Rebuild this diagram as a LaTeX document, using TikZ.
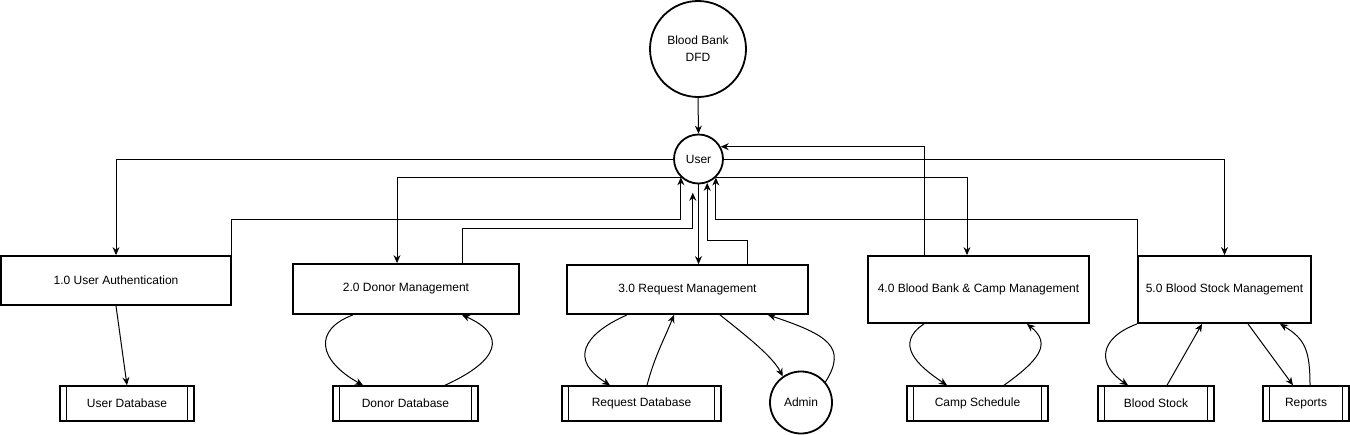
\documentclass[tikz,border=0pt]{standalone}
\usepackage{fontspec}
\setmainfont{Liberation Sans}
\usetikzlibrary{calc,positioning,arrows.meta}

\begin{document}
\begin{tikzpicture}[x=1pt,y=-1pt,>={Stealth[length=8pt,width=7pt]},line width=1pt,
                    font=\fontsize{12}{17}\selectfont,
                    proc node/.style={rectangle,draw,line width=1.8pt,minimum height=49pt,inner sep=0pt},
                    store node/.style={rectangle,draw,line width=1.5pt,minimum height=35pt,inner sep=0pt,
                       path picture={\draw[line width=1.5pt] ([xshift=6.5pt]path picture bounding box.north west) -- ([xshift=6.5pt]path picture bounding box.south west);
                                     \draw[line width=1.5pt] ([xshift=-6.5pt]path picture bounding box.north east) -- ([xshift=-6.5pt]path picture bounding box.south east);}},
                    ext node/.style={circle,draw,line width=1.8pt,inner sep=0pt}]
\useasboundingbox (0,0) rectangle (1350,434);

\node[ext node,minimum size=96pt,align=center] (dfd) at (698,49) {Blood Bank\\DFD};
\node[ext node,minimum size=49pt] (user) at (698.5,159) {User};

\node[proc node,minimum width=230pt] (auth) at (116,280.5) {1.0 User Authentication};
\node[proc node,minimum width=226pt,minimum height=50pt] (don) at (406,289) {2.0 Donor Management};
\node[proc node,minimum width=241pt] (req) at (687.5,289.5) {3.0 Request Management};
\node[proc node,minimum width=221pt,minimum height=67pt] (cmp) at (978.5,289.5) {4.0 Blood Bank \& Camp Management};
\node[proc node,minimum width=173pt,minimum height=67pt] (stk) at (1224.5,289.5) {5.0 Blood Stock Management};

\foreach \n/\x/\w/\t in {udb/127/134/User Database,ddb/405.5/145/Donor Database,rdb/641.5/159/Request Database,
                         csc/977.5/141/Camp Schedule,bst/1156/116/Blood Stock,rep/1306/86/Reports}
   \node[store node,minimum width=\w pt] (\n) at (\x,403.5) {\t};

\node[ext node,minimum size=62pt] (adm) at (801,402.5) {Admin};

\draw[->] (dfd.south) -- (user.north);

\draw[->] (user.west) -| (auth.north);
\draw[->] (user.-134) -| ($(don.north)+(-9,0)$);
\draw[->] (user.south) -- (user.south |- req.north);
\draw[->] (user.-46) -| ($(cmp.north)+(-11.5,0)$);
\draw[->] (user.east) -| (stk.north);

\draw[->] (auth.north east) -- ++(0,-36) -| (user.-134);
\draw[->,shorten >=9pt] ($(don.north)+(56,0)$) -- ++(0,-35) -| (user.-103);
\draw[->] ($(req.north)+(59.5,0)$) -- ++(0,-24) -| (user.-70);
\draw[->] ($(cmp.north)+(-54.5,0)$) |- (user.29);
\draw[->] (stk.north west) -- ++(0,-36) -| (user.-47);

\draw[->] (auth.south) -- (udb.north);
\draw[->] ($(don.south)+(-53,0)$) .. controls +(-40,15) and +(-45,-25) .. ($(ddb.north)+(-42.5,0)$);
\draw[->] ($(ddb.north)+(39.5,0)$) .. controls +(55,-25) and +(45,20) .. ($(don.south)+(56,0)$);
\draw[->] ($(req.south)+(-60.5,0)$) .. controls +(-45,20) and +(-40,-25) .. ($(rdb.north)+(-31.5,0)$);
\draw[->] ($(rdb.north)+(5.5,0)$) .. controls +(8,-30) and +(-10,25) .. ($(req.south)+(-13.5,0)$);
\draw[->] ($(req.south)+(32.5,0)$) .. controls +(25,20) and +(-10,-20) .. (adm.125);
\draw[->] (adm.40) .. controls +(22,-35) and +(60,20) .. ($(req.south)+(80.5,0)$);
\draw[->] ($(cmp.south)+(-54.5,0)$) .. controls +(-30,20) and +(-30,-20) .. ($(csc.north)+(-30.5,0)$);
\draw[->] ($(csc.north)+(26.5,0)$) .. controls +(35,-25) and +(25,20) .. ($(cmp.south)+(48.5,0)$);
\draw[->] (stk.south west) .. controls +(-40,15) and +(-30,-20) .. ($(bst.north)+(-28,0)$);
\draw[->] ($(bst.north)+(11,0)$) -- ($(stk.south)+(-22.5,0)$);
\draw[->] ($(stk.south)+(23.5,0)$) -- ($(rep.north)+(-13,0)$);
\draw[->] ($(rep.north)+(4,0)$) .. controls +(0,-35) and +(25,15) .. ($(stk.south)+(55.5,0)$);
\end{tikzpicture}
\end{document}
